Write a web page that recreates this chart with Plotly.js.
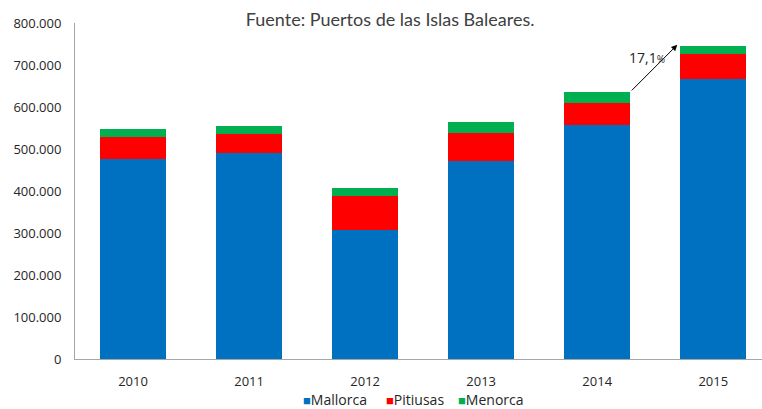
<!DOCTYPE html>
<html><head><meta charset="utf-8">
<script src="https://cdn.plot.ly/plotly-3.0.1.min.js"></script>
<style>html,body{margin:0;padding:0;background:#fff}#c{width:762px;height:409px}</style>
</head><body><div id="c"></div>
<script>
const years = ['2010','2011','2012','2013','2014','2015'];
const seriesNames = ['Mallorca','Pitiusas','Menorca'];
const mallorca = [475500, 490000, 306000, 471000, 556000, 667000];
const pitiusas = [53000, 45000, 81000, 66000, 53000, 59000];
const menorca  = [20000, 19000, 19000, 27000, 27000, 20000];
const growthLabel = '17,1<span style="font-size:10px">%</span>';
const titleText = 'Fuente: Puertos de las Islas Baleares.';

const colors = ['#0070C0', '#FF0000', '#00B050'];
const values = [mallorca, pitiusas, menorca];
const totals = years.map((_, i) => mallorca[i] + pitiusas[i] + menorca[i]);
const bw = 0.57;
const data = seriesNames.map((name, k) => ({type:'bar', name, x: years, y: values[k],
  width: bw, marker:{color: colors[k], line:{width:0}}, showlegend: false}));

const plotL = 75, plotW = 687, plotB = 359, plotH = 336;
const legendPx = [302, 385, 457];
const legendAnn = seriesNames.map((name, k) => ({
  xref: 'paper', yref: 'paper', x: (legendPx[k] - plotL) / plotW, y: (plotB - 399) / plotH,
  xanchor: 'left', yanchor: 'middle', showarrow: false, borderpad: 0,
  text: '<span style="color:' + colors[k] + ';font-size:13px">■</span>' + name,
  font: {size: 14, color: '#262626'}
}));

const tailX = 4 + bw/2, headX = 4.69;
const layout = {
  width: 762, height: 409,
  margin: {l: plotL, r: 0, t: 23, b: 50, autoexpand: false},
  barmode: 'stack',
  separators: ',.',
  paper_bgcolor: '#fff', plot_bgcolor: '#fff',
  font: {family: '"Open Sans", Lato, sans-serif', color: '#404040', size: 13},
  title: {text: titleText, x: 0.512, xanchor: 'center', y: 0.952, yanchor: 'middle',
    font: {size: 18, color: '#404040', family: 'Lato, "Open Sans", sans-serif'}},
  xaxis: {type: 'category', range: [-0.5, 5.42], showline: true, linecolor: '#A6A6A6',
    linewidth: 1, ticks: '', showgrid: false, tickfont: {size: 13, color: '#262626'},
    ticklabelstandoff: 10, automargin: false},
  yaxis: {range: [0, 800000], dtick: 100000, tickformat: ',d', showline: true,
    linecolor: '#A6A6A6', linewidth: 1, ticks: '', showgrid: false, zeroline: false,
    tickfont: {size: 13, color: '#262626'}, ticklabelstandoff: 10, automargin: false},
  showlegend: false,
  annotations: [
    {x: headX, y: totals[5] + 2000, ax: tailX, ay: totals[4], xref: 'x', yref: 'y',
     axref: 'x', ayref: 'y', showarrow: true, arrowhead: 2, arrowsize: 1.2, arrowwidth: 1,
     arrowcolor: '#000', text: ''},
    {x: 4.43, y: 717000, xref: 'x', yref: 'y', text: growthLabel, showarrow: false,
     font: {size: 14, color: '#262626'}}
  ].concat(legendAnn)
};
Plotly.newPlot('c', data, layout, {displayModeBar: false, staticPlot: true});
</script></body></html>
